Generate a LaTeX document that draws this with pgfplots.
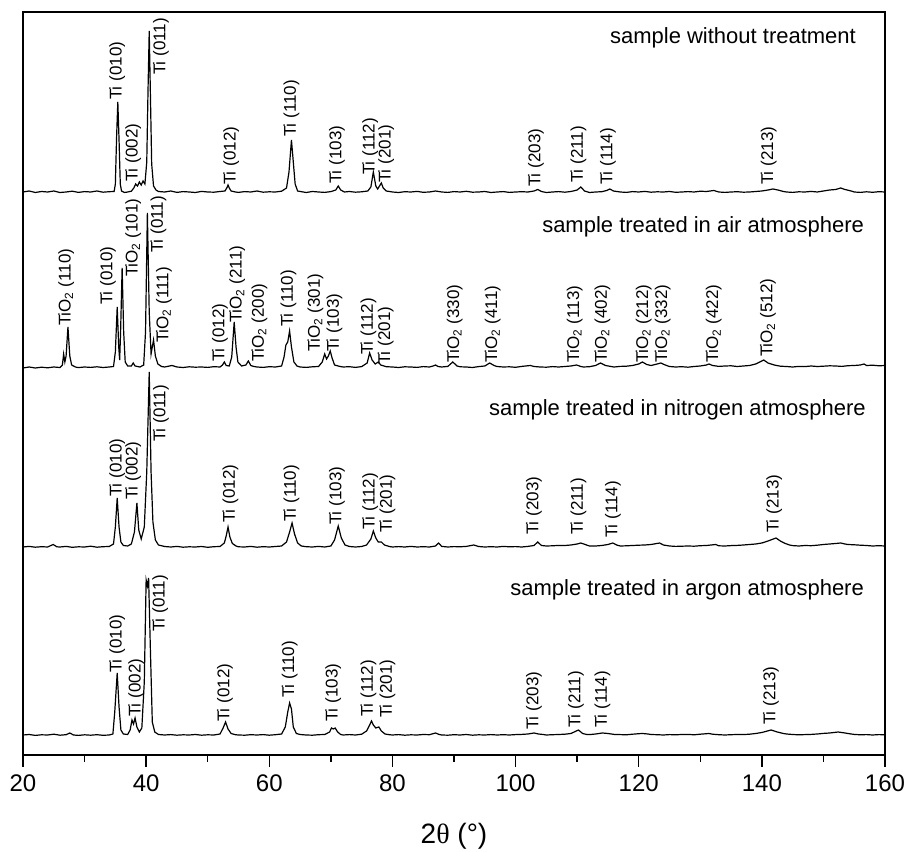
\documentclass[border=0pt]{standalone}
\usepackage{pgfplots}
\pgfplotsset{compat=1.18}
\usepackage{fontspec}
\setmainfont{Liberation Sans}
\newfontfamily\serif{Liberation Serif}

\tikzset{
  lbl/.style={rotate=90, anchor=west, inner sep=0pt, font=\fontsize{17}{17}\selectfont},
  smp/.style={anchor=east, inner sep=0pt, font=\fontsize{22}{22}\selectfont},
}
% rotated peak label, its foot just above the peak
\newcommand{\pk}[3]{\node[lbl] at (axis cs:#1,#2) {#3};}
\newcommand{\tio}{TiO\textsubscript{2}}

\begin{document}
\begin{tikzpicture}
\useasboundingbox (0,0) rectangle (906pt,852pt);
\begin{axis}[
    at={(23pt,97pt)}, anchor=south west,
    scale only axis, width=862pt, height=743pt,
    xmin=20, xmax=160, ymin=97, ymax=840,
    xtick={20,40,...,160}, minor x tick num=1,
    ytick=\empty, xtick pos=bottom,
    tick align=outside,
    major tick length=12pt, minor tick length=7pt,
    axis line style={line width=1.4pt},
    every tick/.style={line width=1.3pt, black},
    /pgf/number format/assume math mode=true,
    ticklabel style={font=\fontsize{24}{24}\selectfont},
    xticklabel style={yshift=-4pt},
    xlabel={2{\serif θ} (°)},
    xlabel style={font=\fontsize{28}{28}\selectfont, at={(axis description cs:0.5,-0.109)}, anchor=center},
    clip=false,
  ]

% sample without treatment
\addplot[black, line width=1.2pt] coordinates {
(20,660)(21,661)(22,659.5)(23,660.5)(24,660)(25,661)(26,659.5)(27,660)(28,660.8)(29,659.6)(30,660.4)(31,660)(32,661)(33,659.8)(34,660.3)(34.8,660.5)(35.0,668)(35.2,715)(35.4,750)(35.6,712)(35.8,668)(36.0,661)(36.5,659.5)(37,660)(37.6,660.8)(38.0,664)(38.3,668)(38.6,666)(38.9,670)(39.2,667)(39.5,671)(39.8,668)(40.1,690)(40.3,760)(40.5,821)(40.7,755)(40.9,688)(41.2,666)(41.6,662)(42,660.5)(43,660)(44,661)(45,659.6)(46,660.4)(47,660)(48,659.5)(49,660.6)(50,660)(51,659.8)(52,660.5)(52.8,661)(53.1,664)(53.3,667)(53.5,664)(53.8,661)(54.5,660)(55,659.6)(56,660.4)(57,660)(58,661)(59,659.8)(60,660.2)(61,660)(62,660.8)(62.8,664)(63.2,680)(63.6,712)(63.9,690)(64.2,668)(64.6,661)(65.5,660)(66,659.5)(67,660.5)(68,660)(69,659.6)(70,660.4)(70.8,662)(71.2,666)(71.6,662)(72.2,660)(73,660.5)(74,659.8)(75,660.2)(76,661)(76.5,665)(76.9,680)(77.3,666)(77.6,663)(77.9,666)(78.2,669)(78.5,664)(79,661)(80,660)(81,659.5)(82,660.3)(83,660)(84,660.6)(85,659.7)(86,660)(87,661)(88,660)(89,659.6)(90,660.4)(91,660)(92,660.7)(93,659.8)(94,660)(95,660.5)(96,659.5)(97,660)(98,660.4)(99,659.6)(100,660)(101,660.3)(102,660)(103,661)(103.6,662.5)(104.2,660.5)(105,659.5)(106,660)(107,660.4)(108,659.8)(109,660.5)(110,662)(110.6,665)(111.2,661)(112,659.5)(113,660)(114,660.3)(114.8,661.5)(115.3,663)(115.9,661)(117,660)(118,659.6)(119,660.4)(120,660)(121,660.6)(122,659.8)(123,660.2)(124,660)(125,660.5)(126,659.7)(127,660)(128,660.4)(129,660)(130,660.8)(131,660.5)(132.2,661.5)(133,660)(134,659.6)(135,660)(136,660.3)(137,659.8)(138,660)(139,660.5)(140,661)(141,662)(141.8,663)(142.6,662)(143.5,660.5)(144,660)(145,659.6)(146,660.2)(147,660)(148,660.6)(149,660)(150,661)(151,662)(152,662.5)(152.8,664)(153.5,662.5)(154.5,661)(155,660)(156,659.6)(157,660.2)(158,659.7)(159,660.3)(160,660)
};

% sample treated in air atmosphere
\addplot[black, line width=1.2pt] coordinates {
(20,484)(21,485)(22,484)(23,484.8)(24,484.2)(25,485)(26,484.5)(26.4,487)(26.6,498)(26.8,490)(27.0,496)(27.3,525)(27.6,496)(27.9,487)(28.5,485)(29,484.4)(30,485)(31,484.6)(32,485.2)(33,484.5)(34,485)(34.7,485.5)(35.0,500)(35.3,545)(35.55,505)(35.7,492)(35.85,520)(36.1,584)(36.35,520)(36.6,490)(37,486)(37.6,486)(37.9,489)(38.2,486)(39,485)(39.6,487)(39.9,520)(40.2,639)(40.5,540)(40.8,498)(41.0,505)(41.2,512)(41.5,496)(41.9,488)(42.5,485.5)(43,485)(44.2,486.5)(45,485)(46,484.5)(47,485.2)(48,484.8)(49,485)(50,484.6)(51,485.3)(52,485)(52.4,487)(52.7,490)(53.0,486.5)(53.5,486)(53.9,495)(54.3,530)(54.6,505)(54.9,490)(55.5,486)(56.2,487)(56.6,491)(57.0,486.5)(57.5,485.5)(58,485)(59,484.6)(60,485.3)(61,485)(62,486)(62.4,495)(62.7,507)(63.0,510)(63.3,521)(63.6,505)(64.0,490)(64.5,486)(65,485)(66,484.6)(67,485.2)(68,485.5)(68.6,490)(69.0,498)(69.3,493)(69.6,496)(69.9,501)(70.2,494)(70.6,487)(71.5,485.5)(72,485)(73,485.3)(74,484.6)(75,485.4)(75.9,489)(76.3,499)(76.7,492)(77.2,488)(77.7,490)(78.1,487)(79,485.3)(80,485)(81,484.5)(82,485.2)(83,485)(84,484.6)(85,485.4)(86,485)(86.6,486)(87.0,487)(87.4,485.5)(88,485)(89,485.6)(89.8,490)(90.5,486)(91,485.2)(92,485)(93,484.5)(94,485.4)(95,486)(95.8,489)(96.5,486.5)(97,485.5)(98,485)(99,485.2)(100,484.7)(101,485.6)(102.4,486.5)(103,485.5)(104,485)(105,484.8)(106,485.4)(107,485)(108,485.5)(109,486)(109.9,487)(110.6,485.5)(111,485)(112,485.3)(113,486.5)(113.8,489)(114.6,486.5)(115.5,485.5)(116,485)(117,485.6)(118,485.8)(119,486.5)(120,488)(120.6,490)(121.3,487.5)(122,486.5)(123,488)(123.6,489)(124.3,487)(125,485.5)(126,485)(127,485.3)(128,484.8)(129,485.5)(130,486)(131,487)(131.4,488)(132,486.5)(133,485.6)(134,486)(135,486.2)(136,485.5)(137,486)(138,486.5)(139,488)(140.3,492)(141,489)(142,487)(143,485.8)(144,485.5)(145,485)(146,485.6)(147,485.4)(148,486)(149,485.5)(150,485.8)(151,486.2)(152,486)(153,485.6)(154,486.3)(155,486.5)(156,487)(156.6,488)(157,486.5)(158,486.8)(159,486.2)(160,486.5)
};

% sample treated in nitrogen atmosphere
\addplot[black, line width=1.2pt] coordinates {
(20,305)(21,305.6)(22,304.8)(23,305.3)(24,305)(24.9,307.5)(25.5,305.2)(26,305)(27,305.6)(28,304.7)(29,305.2)(30,305)(31,305.8)(32,304.8)(33,305.3)(34,305.5)(34.7,308)(35.0,325)(35.3,354)(35.6,325)(35.9,310)(36.3,306.5)(37,306)(37.6,308)(38.1,320)(38.5,349)(38.8,322)(39.2,313)(39.7,325)(40.1,380)(40.5,480)(40.8,380)(41.1,330)(41.5,312)(42,307)(43,305.5)(44,305)(45,305.6)(46,304.8)(47,305.2)(48,305)(49,305.5)(50,304.7)(51,305.3)(52,305.5)(52.7,309)(53.0,316)(53.3,325)(53.6,315)(54.0,308.5)(54.6,306)(55,305.2)(56,305)(57,305.6)(58,304.8)(59,305.3)(60,305)(61,305.5)(62,306)(62.8,310)(63.3,320)(63.7,329)(64.1,318)(64.6,309)(65.2,306)(66,305.3)(67,305)(68,305.6)(69,305)(70,306)(70.6,312)(71.2,326)(71.7,314)(72.3,307)(73,305.5)(74,305)(75,305.5)(75.8,307)(76.5,313)(76.9,321)(77.3,314)(77.7,310)(78.2,310)(78.7,307)(79.5,305.5)(80,305)(81,305.4)(82,305)(83,305.6)(84,305)(85,305.3)(86,305)(87,306)(87.5,309)(88,305.6)(89,305)(90,305.4)(91,305.2)(92,305.6)(93.2,307)(94,305.5)(95,305)(96,305.3)(97,305)(98,305.6)(99,305.2)(100,305.4)(101,305)(102,305.6)(103,306.5)(103.6,310)(104.2,306.5)(105,306)(106,306.2)(107,306.6)(108,306.5)(109,307)(110,308)(110.6,309)(111.3,307.5)(112,306)(113,306)(114,306.5)(115,307.5)(115.8,309)(116.5,306.8)(117,306)(118,306.2)(119,306.5)(120,306.8)(121,307)(122,307.5)(123.4,309)(124,307)(125,306)(126,305.6)(127,305.8)(128,306)(129,305.8)(130,306.3)(131,306.5)(132.5,307.5)(133,306.2)(134,306)(135,306.4)(136,306.6)(137,307)(138,307.5)(139,308)(140,309)(141,311)(142.3,314)(143,311)(143.8,308.5)(144.5,307)(145,306.4)(146,306)(147,306.5)(148,306.3)(149,306.8)(150,307.5)(151,308)(152,308.5)(152.8,309)(153.5,308)(154,307.5)(155,307.2)(156,306.8)(157,306.5)(158,306)(159,306.3)(160,306)
};

% sample treated in argon atmosphere
\addplot[black, line width=1.2pt] coordinates {
(20,117)(21,117.5)(22,116.6)(23,117.2)(24,117)(25,117.8)(26,116.8)(27,117.3)(27.6,119)(28.2,117)(29,116.6)(30,117.2)(31,116.8)(32,117.3)(33,116.7)(34,117)(34.6,118)(34.9,140)(35.3,179)(35.6,145)(35.9,122)(36.3,118)(37,117.5)(37.4,122)(37.7,132)(37.95,128)(38.2,134)(38.5,125)(38.9,120)(39.3,124)(39.7,170)(40.0,272)(40.2,266)(40.4,274)(40.7,200)(41.0,130)(41.4,120)(42,117.5)(43,117)(44,117.4)(45,116.8)(46,117.2)(47,117)(48,117.5)(49,116.8)(50,117.2)(51,117)(52,118)(52.5,124)(52.9,130)(53.3,123)(53.8,118.5)(54.5,117.3)(55,117)(56,116.8)(57,117.3)(58,117)(59,117.4)(60,116.8)(61,117.3)(62,118)(62.6,125)(63.0,140)(63.3,149)(63.6,143)(63.9,125)(64.4,118.5)(65,117.5)(66,117)(67,116.8)(68,117.3)(69,117.5)(69.8,120)(70.1,124)(70.4,123)(70.7,124)(71.1,120)(71.6,117.5)(72,117)(73,117.4)(74,117)(75,117.8)(75.8,121)(76.3,127)(76.6,131)(76.9,127)(77.3,124)(77.8,125)(78.2,121)(78.8,118)(79.5,117.3)(80,117)(81,117.4)(82,116.8)(83,117.2)(84,117)(85,117.5)(86,117.3)(87,119)(87.6,117.5)(88,117)(89,116.8)(90,117.3)(91,117)(92,117.5)(93,116.8)(94,117.2)(95,117)(96,117.4)(97,117)(98,117.3)(99,117)(100,117.4)(101,117.6)(102,118)(103,119)(103.7,118)(104.5,117.5)(105,117)(106,117.3)(107,117.5)(108,117.8)(109,118.5)(110.2,122)(110.9,118.5)(111.5,117.6)(112,117.4)(113,118)(114.1,119)(115,118.5)(116,117.6)(117,117.4)(118,117.2)(119,117.8)(120,118.3)(120.6,118.5)(121.5,118)(122,117.5)(123,117.3)(124,117)(125,117.4)(126,117.2)(127,117.5)(128,117.6)(129,117.2)(130,117.8)(131.4,118.5)(132,117.8)(133,117.3)(134,117)(135,117.3)(136,117.5)(137,117.4)(138,117.8)(139,118.5)(140,119.5)(141.5,122)(142.5,120)(143.5,118.5)(144,118)(145,117.5)(146,117.2)(147,117.4)(148,117.6)(149,118)(150,118.6)(151,119)(152.4,120)(153.5,119)(154.5,118)(155,117.6)(156,117.2)(157,117.4)(158,117)(159,117.4)(160,117.2)
};

% sample names
\node[smp] at (axis cs:155.3,814) {sample without treatment};
\node[smp] at (axis cs:156.6,625) {sample treated in air atmosphere};
\node[smp] at (axis cs:156.9,442) {sample treated in nitrogen atmosphere};
\node[smp] at (axis cs:156.6,262) {sample treated in argon atmosphere};

% peak labels: without treatment
\pk{35.3}{752}{Ti (010)}
\pk{37.9}{670}{Ti (002)}
\pk{42.4}{777}{Ti (011)}
\pk{53.8}{667}{Ti (012)}
\pk{63.6}{715}{Ti (110)}
\pk{71.0}{668}{Ti (103)}
\pk{76.4}{677}{Ti (112)}
\pk{79.0}{669}{Ti (201)}
\pk{103.3}{665}{Ti (203)}
\pk{110.2}{669}{Ti (211)}
\pk{115.0}{667}{Ti (114)}
\pk{141.1}{667}{Ti (213)}

% air
\pk{27.0}{526}{\tio{} (110)}
\pk{33.8}{547}{Ti (010)}
\pk{37.9}{575}{\tio{} (101)}
\pk{42.0}{599}{Ti (011)}
\pk{42.9}{509}{\tio{} (111)}
\pk{52.0}{490}{Ti (012)}
\pk{54.8}{529}{\tio{} (211)}
\pk{58.4}{490}{\tio{} (200)}
\pk{63.1}{525}{Ti (110)}
\pk{67.5}{500}{\tio{} (301)}
\pk{70.6}{500}{Ti (103)}
\pk{76.1}{497}{Ti (112)}
\pk{78.9}{487}{Ti (201)}
\pk{90.1}{489}{\tio{} (330)}
\pk{96.3}{489}{\tio{} (411)}
\pk{109.6}{489}{\tio{} (113)}
\pk{114.1}{489}{\tio{} (402)}
\pk{120.8}{489}{\tio{} (212)}
\pk{123.9}{489}{\tio{} (332)}
\pk{132.2}{489}{\tio{} (422)}
\pk{141.0}{495}{\tio{} (512)}

% nitrogen
\pk{35.3}{355}{Ti (010)}
\pk{37.9}{352}{Ti (002)}
\pk{42.4}{410}{Ti (011)}
\pk{53.7}{329}{Ti (012)}
\pk{63.6}{330}{Ti (110)}
\pk{71.0}{327}{Ti (103)}
\pk{76.4}{322}{Ti (112)}
\pk{79.2}{319}{Ti (201)}
\pk{103.0}{317}{Ti (203)}
\pk{110.2}{317}{Ti (211)}
\pk{115.8}{314}{Ti (114)}
\pk{142.0}{319}{Ti (213)}

% argon
\pk{35.3}{179}{Ti (010)}
\pk{38.4}{135}{Ti (002)}
\pk{42.3}{220}{Ti (011)}
\pk{52.8}{130}{Ti (012)}
\pk{63.3}{154}{Ti (110)}
\pk{70.4}{130}{Ti (103)}
\pk{76.1}{135}{Ti (112)}
\pk{79.2}{134}{Ti (201)}
\pk{103.0}{122}{Ti (203)}
\pk{109.8}{124}{Ti (211)}
\pk{114.1}{124}{Ti (114)}
\pk{141.5}{127}{Ti (213)}

\end{axis}
\end{tikzpicture}
\end{document}
